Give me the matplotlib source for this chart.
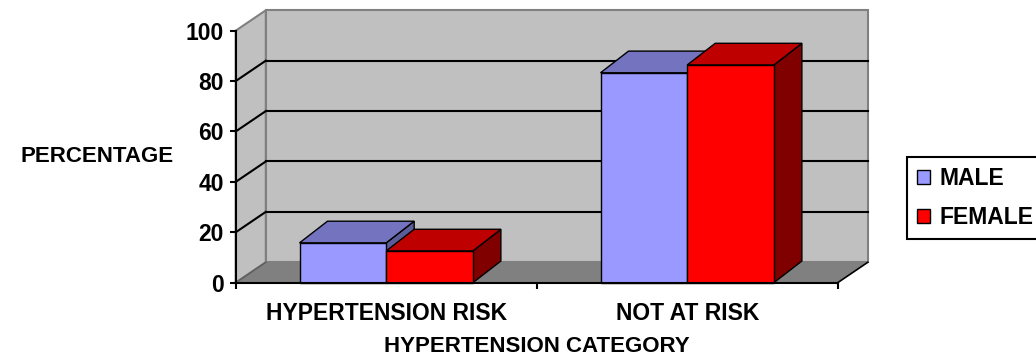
import matplotlib.pyplot as plt
from matplotlib.patches import Polygon, Patch

categories = ['HYPERTENSION RISK', 'NOT AT RISK']
male = [15.8, 83.3]
female = [12.6, 86.4]
y_ticks = [0, 20, 40, 60, 80, 100]

plt.rcParams['font.family'] = ['Liberation Sans', 'DejaVu Sans']
plt.rcParams['font.weight'] = 'bold'
plt.rcParams['axes.labelweight'] = 'bold'
plt.rcParams['font.size'] = 16

# depth of the box and of the bars (data units)
wall_dx, wall_dy = 0.1, 8.1
bar_dx, bar_dy = 0.093, 8.6
bar_w = 0.288

male_cols = ('#9999FF', '#7373BF', '#5C5C99')     # front, top, side
female_cols = ('#FF0000', '#BF0000', '#800000')

fig = plt.figure(figsize=(10.36, 3.62), dpi=100)
ax = fig.add_axes([0.2275, 0.2191, 0.5811, 0.6961])
n = len(categories)
ax.set_xlim(0, n)
ax.set_ylim(0, 100)
ax.patch.set_visible(False)


def poly(pts, fc, ec='none', lw=0, z=1):
    ax.add_patch(Polygon(pts, closed=True, fc=fc, ec=ec, lw=lw,
                         clip_on=False, zorder=z))


# walls and floor
top = y_ticks[-1]
poly([(wall_dx, wall_dy), (n + wall_dx, wall_dy), (n + wall_dx, top + wall_dy),
      (wall_dx, top + wall_dy)], '#C0C0C0', '#808080', 1.5, 0.5)
poly([(0, 0), (wall_dx, wall_dy), (wall_dx, top + wall_dy), (0, top)],
     '#C0C0C0', '#808080', 1.5, 0.6)
poly([(0, 0), (n, 0), (n + wall_dx, wall_dy), (wall_dx, wall_dy)], '#808080', z=0.7)
ax.plot([n, n + wall_dx], [0, wall_dy], color='black', lw=1.2, clip_on=False, zorder=0.8)
ax.plot([0, wall_dx], [0, wall_dy], color='#606060', lw=1.2, clip_on=False, zorder=0.8)

# gridlines on back and side wall
for v in y_ticks[1:-1]:
    ax.plot([wall_dx, n + wall_dx], [v + wall_dy, v + wall_dy], color='black',
            lw=1.5, clip_on=False, zorder=0.9)
    ax.plot([0, wall_dx], [v, v + wall_dy], color='black', lw=1.5,
            clip_on=False, zorder=0.9)


def bar3d(x, h, cols, z):
    front, topc, side = cols
    poly([(x + bar_w, 0), (x + bar_w + bar_dx, bar_dy),
          (x + bar_w + bar_dx, h + bar_dy), (x + bar_w, h)], side, 'black', 1.0, z)
    poly([(x, h), (x + bar_w, h), (x + bar_w + bar_dx, h + bar_dy),
          (x + bar_dx, h + bar_dy)], topc, 'black', 1.0, z)
    poly([(x, 0), (x + bar_w, 0), (x + bar_w, h), (x, h)], front, 'black', 1.0, z)


for i in range(n):
    c = i + 0.5
    bar3d(c - bar_w, male[i], male_cols, 2 + i * 2)
    bar3d(c, female[i], female_cols, 3 + i * 2)

# axes
for s in ['top', 'right']:
    ax.spines[s].set_visible(False)
for s in ['left', 'bottom']:
    ax.spines[s].set_linewidth(1.5)
    ax.spines[s].set_zorder(10)
ax.set_yticks(y_ticks)
ax.tick_params(axis='y', direction='out', length=4.5, width=1.5, pad=4)
ax.set_xticks([i + 0.5 for i in range(n)])
ax.set_xticklabels(categories)
ax.set_xticks(range(n + 1), minor=True)
ax.tick_params(axis='x', which='major', length=0, pad=14)
ax.tick_params(axis='x', which='minor', direction='out', length=4.5, width=1.5)
for lbl in ax.get_xticklabels() + ax.get_yticklabels():
    lbl.set_fontweight('bold')
    lbl.set_fontsize(16.5)

ax.set_ylabel('PERCENTAGE', rotation=0, ha='right', va='center', fontweight='bold')
ax.yaxis.set_label_coords(-0.1025, 0.5)
ax.set_xlabel('HYPERTENSION CATEGORY', va='center', fontweight='bold')
ax.xaxis.set_label_coords(0.5, -0.253)

handles = [Patch(fc=male_cols[0], ec='black', lw=1.0, label='MALE'),
           Patch(fc=female_cols[0], ec='black', lw=1.0, label='FEMALE')]
leg = fig.legend(handles=handles, loc='upper left',
                 bbox_to_anchor=(907 / 1036, 1 - 156.7 / 362), frameon=True,
                 fancybox=False, edgecolor='black', framealpha=1,
                 handlelength=0.55, handleheight=0.55, handletextpad=0.4,
                 borderpad=0.45, labelspacing=0.7, borderaxespad=0,
                 prop={'weight': 'bold', 'size': 16.5})
leg.get_frame().set_linewidth(1.5)

fig.savefig('out.png', dpi=100)
